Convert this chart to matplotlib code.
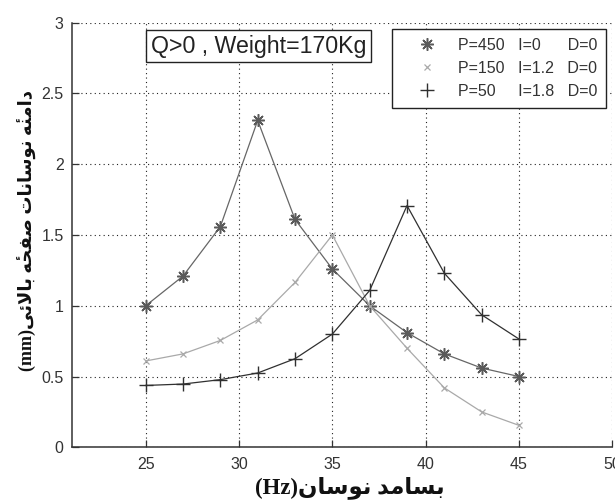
import matplotlib
matplotlib.use("Agg")
import matplotlib.pyplot as plt

# ---------------- data ----------------
freq = [25, 27, 29, 31, 33, 35, 37, 39, 41, 43, 45]
amp_p450 = [1.00, 1.21, 1.56, 2.31, 1.61, 1.26, 1.00, 0.81, 0.66, 0.56, 0.50]
amp_p150 = [0.61, 0.66, 0.755, 0.90, 1.165, 1.50, 1.00, 0.70, 0.42, 0.25, 0.155]
amp_p50 = [0.437, 0.447, 0.478, 0.525, 0.626, 0.80, 1.108, 1.708, 1.23, 0.936, 0.765]
labels = ["P=450   I=0      D=0",
          "P=150   I=1.2   D=0",
          "P=50     I=1.8   D=0"]
xticks = [25, 30, 35, 40, 45, 50]
yticks = [0, 0.5, 1, 1.5, 2, 2.5, 3]
annot = "Q>0 , Weight=170Kg"

# ------------- minimal Arabic shaping (visual order) -------------
FORMS = {
    '\u0627': ('\uFE8D', '\uFE8E', None, None),
    '\u0628': ('\uFE8F', '\uFE90', '\uFE91', '\uFE92'),
    '\u062F': ('\uFEA9', '\uFEAA', None, None),
    '\u0633': ('\uFEB1', '\uFEB2', '\uFEB3', '\uFEB4'),
    '\u0635': ('\uFEB9', '\uFEBA', '\uFEBB', '\uFEBC'),
    '\u0641': ('\uFED1', '\uFED2', '\uFED3', '\uFED4'),
    '\u062D': ('\uFEA1', '\uFEA2', '\uFEA3', '\uFEA4'),
    '\u062A': ('\uFE95', '\uFE96', '\uFE97', '\uFE98'),
    '\u0644': ('\uFEDD', '\uFEDE', '\uFEDF', '\uFEE0'),
    '\u0645': ('\uFEE1', '\uFEE2', '\uFEE3', '\uFEE4'),
    '\u0646': ('\uFEE5', '\uFEE6', '\uFEE7', '\uFEE8'),
    '\u0647': ('\uFEE9', '\uFEEA', '\uFEEB', '\uFEEC'),
    '\u0648': ('\uFEED', '\uFEEE', None, None),
    '\u0626': ('\uFE89', '\uFE8A', '\uFE8B', '\uFE8C'),
    '\u06CC': ('\uFEEF', '\uFEF0', '\uFEF3', '\uFEF4'),
}
MARKS = {'\u0654'}


def shape_word(word):
    groups = []
    for c in word:
        if c in MARKS and groups:
            groups[-1][1].append(c)
        else:
            groups.append([c, []])
    out = []
    n = len(groups)
    i = 0
    prev_joins = False
    while i < n:
        c = groups[i][0]
        if c == '\u0644' and i + 1 < n and groups[i + 1][0] == '\u0627':
            glyph = '\uFEFC' if prev_joins else '\uFEFB'
            out.append([glyph, groups[i][1] + groups[i + 1][1]])
            i += 2
            prev_joins = False
            continue
        f = FORMS.get(c)
        if f is None:
            out.append([c, groups[i][1]])
            prev_joins = False
            i += 1
            continue
        can_join_next = f[2] is not None and i + 1 < n and groups[i + 1][0] in FORMS
        if prev_joins and can_join_next:
            g = f[3]
        elif prev_joins:
            g = f[1]
        elif can_join_next:
            g = f[2]
        else:
            g = f[0]
        out.append([g, groups[i][1]])
        prev_joins = can_join_next
        i += 1
    return ''.join(g + ''.join(m) for g, m in reversed(out))


def shape_rtl(text):
    return ' '.join(shape_word(w) for w in reversed(text.split(' ')))


ylabel_fa = "دامنه\u0654 نوسانات صفحه\u0654 بالائی"
xlabel_fa = "بسامد نوسان"

# ---------------- figure ----------------
plt.rcParams['font.family'] = ['Liberation Sans', 'DejaVu Sans']
fig = plt.figure(figsize=(6.15, 5.0), dpi=100)
ax = fig.add_axes([72 / 615, 1 - 447.3 / 500, (612.3 - 72) / 615, (447.3 - 22.7) / 500])

c1, c2, c3 = '#666666', '#a9a9a9', '#303030'
ast = (8, 2, 0)
ax.plot(freq, amp_p450, color=c1, lw=0.9, marker=ast, ms=9, mew=1.1, mec='#5a5a5a', label=labels[0])
ax.plot(freq, amp_p150, color=c2, lw=0.9, marker='x', ms=5, mew=0.9, label=labels[1])
ax.plot(freq, amp_p50, color=c3, lw=0.9, marker='+', ms=10, mew=1.0, label=labels[2])

ax.set_xlim(21.05, 50)
ax.set_ylim(0, 3)
ax.set_xticks(xticks)
ax.set_yticks(yticks)
ax.set_yticklabels([f"{v:g}" for v in yticks])
ax.tick_params(direction='in', length=5, width=0.9, colors='#333333', labelsize=11.5,
               top=False, right=False)
ax.tick_params(axis='x', pad=7)
ax.tick_params(axis='y', pad=6)
ax.grid(True, color='#222222', linestyle=(0, (1, 3)), linewidth=0.8)
ax.set_axisbelow(True)
for s in ['top', 'right']:
    ax.spines[s].set_visible(False)
for s in ['left', 'bottom']:
    ax.spines[s].set_color('#333333')
    ax.spines[s].set_linewidth(1.1)

# annotation box
ax.text((151 - 72) / 540.3, 0.945, annot, transform=ax.transAxes, fontsize=16.7, color='#222222',
        ha='left', va='center',
        bbox=dict(boxstyle='square,pad=0.2', fc='white', ec='#222222', lw=1.0))

leg = ax.legend(loc='upper right', bbox_to_anchor=(0.9885, 0.985), fontsize=11.5,
                frameon=True, fancybox=False, edgecolor='#222222', framealpha=1,
                handlelength=3.3, handletextpad=0.3, labelspacing=0.5,
                borderpad=0.55, borderaxespad=0)
leg.get_frame().set_linewidth(1.0)
for h in leg.legend_handles:
    h.set_linestyle('none')
for t in leg.get_texts():
    t.set_color('#333333')

ax.set_xlabel("(Hz)" + shape_rtl(xlabel_fa), fontsize=16.5, fontweight='bold',
              family=['Liberation Serif', 'DejaVu Sans'], color='#111111')
ax.xaxis.set_label_coords(0.515, -0.068)
ax.set_ylabel("(mm)" + shape_rtl(ylabel_fa), fontsize=13, fontweight='bold',
              family=['Liberation Serif', 'DejaVu Sans'], color='#111111')
ax.yaxis.set_label_coords(-0.065, 0.51)

fig.savefig('out.png', dpi=100)
